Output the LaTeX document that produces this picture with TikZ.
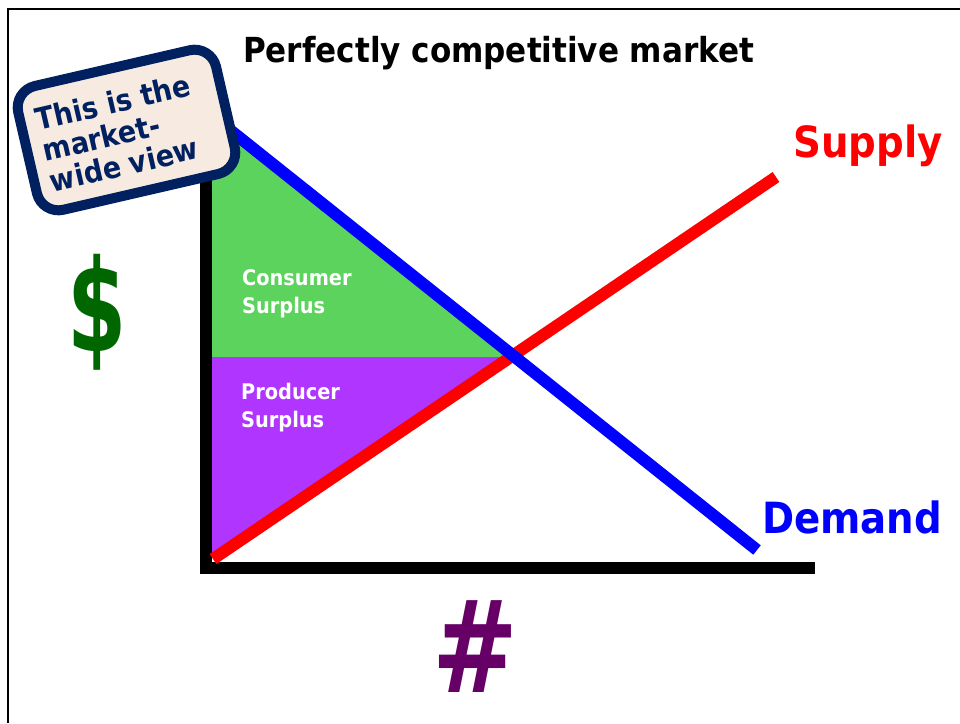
\documentclass[tikz,border=0pt]{standalone}
\usepackage{fontspec}
\setmainfont{DejaVu Sans Condensed}
\definecolor{csgreen}{RGB}{92,211,92}
\definecolor{pspurple}{RGB}{176,53,255}
\definecolor{navyc}{RGB}{0,32,96}
\definecolor{beigec}{RGB}{246,234,225}
\definecolor{dollarc}{RGB}{0,102,0}
\definecolor{hashc}{RGB}{102,0,102}
\tikzset{
  curve/.style={line width=12pt},
  areatext/.style={text=white, font=\bfseries\fontsize{21.5}{28}\selectfont, align=left, anchor=base west, inner sep=0pt},
  biglabel/.style={font=\bfseries\fontsize{43}{50}\selectfont, anchor=base west, inner sep=0pt}
}
\begin{document}
\begin{tikzpicture}[x=1pt,y=-1pt]
\useasboundingbox (0,0) rectangle (960,723);
\fill[white] (0,0) rectangle (960,723);
% frame
\draw[line width=2.5pt] (8,723) -- (8,9) -- (960,9);
% areas
\fill[csgreen] (212,114) -- (515,357) -- (212,357) -- cycle;
\fill[pspurple] (212,357) -- (510,357) -- (212,558) -- cycle;
% axes
\coordinate (ytop) at (206,160);
\coordinate (origin) at (206,568);
\coordinate (xend) at (815,568);
\draw[line width=12pt] (ytop) -- (origin) -- (xend);
% curves
\coordinate (s0) at (213,559);
\coordinate (s1) at (776,177);
\coordinate (d0) at (215,118);
\coordinate (d1) at (757,550);
\draw[curve, red] (s0) -- (s1);
\draw[curve, blue] (d0) -- (d1);
% labels
\node[areatext] (cs) at (242,313) {Consumer\\Surplus};
\node[areatext] (ps) at (241,427) {Producer\\Surplus};
\node[biglabel, text=red] (supply) at (793,157) {Supply};
\node[biglabel, text=blue] (demand) at (762,533) {Demand};
\node[font=\bfseries\fontsize{34.5}{38}\selectfont, anchor=base west, inner sep=0pt] (title) at (243,62) {Perfectly competitive market};
\node[font=\bfseries\fontsize{128}{128}\selectfont, text=dollarc, inner sep=0pt] (dollar) at (97,312) {\scalebox{0.74}[1]{\$}};
\node[font=\bfseries\fontsize{128}{128}\selectfont, text=hashc, inner sep=0pt] (hash) at (475,647) {\scalebox{0.89}[1]{\#}};
% box
\node[rotate=13, draw=navyc, line width=10pt, fill=beigec, rounded corners=22pt,
  minimum width=203pt, minimum height=127pt] (box) at (126.5,130) {};
\node[rotate=13, text=navyc, align=left, inner sep=0pt,
  font=\bfseries\fontsize{30}{31.5}\selectfont] (boxtext) at (120,133) {This is the\\market-\\wide view};
\end{tikzpicture}
\end{document}
